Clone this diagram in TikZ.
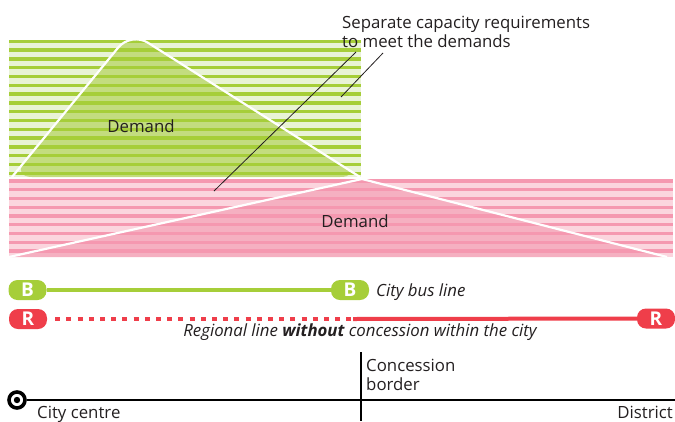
\documentclass[tikz,border=0pt]{standalone}
\usepackage{fontspec}
\setmainfont{Open Sans}
\usetikzlibrary{positioning}
\definecolor{busgreen}{RGB}{166, 206, 57}
\definecolor{greenlight}{RGB}{233, 243, 214}
\definecolor{greenmid}{RGB}{195, 220, 127}
\definecolor{regred}{RGB}{239, 62, 74}
\definecolor{pinkstripe}{RGB}{245, 152, 176}
\definecolor{pinklight}{RGB}{251, 213, 222}
\definecolor{pinkmid}{RGB}{245, 176, 193}
\definecolor{textgray}{RGB}{35, 31, 32}

\begin{document}
\begin{tikzpicture}[
    x=1pt, y=-1pt,
    label/.style={
      inner sep=0pt,
      anchor=base west,
      text=textgray,
      font=\fontsize{16.8}{19}\selectfont
    },
    badge/.style={
      rectangle,
      rounded corners=9pt,
      minimum width=38pt,
      minimum height=20pt,
      inner sep=0pt,
      text=white,
      font=\fontsize{19}{19}\selectfont\bfseries
    },
    outline/.style={white, line width=2.2pt, line join=round},
    pointer/.style={textgray, line width=0.8pt},
    busline/.style={busgreen, line width=4pt},
    axis/.style={black, line width=1.3pt}
  ]
    \useasboundingbox (0,0) rectangle (675,421);

    % capacity for the city bus
    \fill[greenlight] (9,40) rectangle (361,177);
    \begin{scope}
      \clip (9,40) rectangle (361,177);
      \fill[greenmid, rounded corners=20pt] (12,177) -- (131,32) -- (360,177) -- cycle;
      \foreach \k in {0,...,15}
        \fill[busgreen] (9,{39.6+8.8*\k}) rectangle (361,{43+8.8*\k});
      \draw[outline, rounded corners=20pt] (12,177) -- (131,32) -- (360,177);
    \end{scope}

    % capacity for the regional line
    \fill[pinklight] (9,179) rectangle (673,257);
    \begin{scope}
      \clip (9,179) rectangle (673,257);
      \fill[pinkmid] (9,257) -- (362,179) -- (667,257) -- cycle;
      \foreach \k in {0,...,8}
        \fill[pinkstripe] (9,{179.3+8.75*\k}) rectangle (673,{182.7+8.75*\k});
      \draw[outline] (9,257) -- (362,179) -- (667,257);
    \end{scope}

    \node[label, anchor=base] (dem1) at (141,132) {Demand};
    \node[label, anchor=base] (dem2) at (355,227) {Demand};

    \node[label, align=left, anchor=north west] (sep) at (342,15.5)
      {Separate capacity requirements\\to meet the demands};
    \coordinate (s1) at (356,52);
    \coordinate (s2) at (383,53);
    \coordinate (e1) at (214,191);
    \coordinate (e2) at (341,97);
    \draw[pointer] (s1) -- (e1);
    \draw[pointer] (s2) -- (e2);

    % lines
    \node[badge, fill=busgreen] (b1) at (27.5,290) {B};
    \node[badge, fill=busgreen] (b2) at (350,290) {B};
    \draw[busline] (b1) -- (b2);
    \node[label, font=\fontsize{16.8}{19}\selectfont\itshape] (bus) at (376,296) {City bus line};

    \node[badge, fill=regred] (r1) at (28,319) {R};
    \node[badge, fill=regred] (r2) at (656,318.5) {R};
    \coordinate (rb) at (353,319);
    \draw[regred, line width=4pt, dash pattern=on 5pt off 6.2pt, shorten <=8pt] (r1) -- (rb);
    \draw[regred, line width=4pt] (rb) -- (r2);
    \node[label, anchor=base, font=\fontsize{16.8}{19}\selectfont\itshape] (reg) at (360,336)
      {Regional line \textbf{without} concession within the city};

    % axis
    \node[circle, draw=black, line width=3.6pt, minimum size=16pt, inner sep=0pt] (centre) at (17,400) {};
    \fill (centre) circle (3.2pt);
    \coordinate (dist) at (675,400);
    \draw[axis] (centre) -- (dist);
    \coordinate (bt) at (361,352);
    \coordinate (bb) at (361,421);
    \draw[black, line width=1.5pt] (bt) -- (bb);
    \node[label, align=left, anchor=north west] (border) at (366,358.5) {Concession\\border};
    \node[label] (cc) at (37,418) {City centre};
    \node[label, anchor=base east] (district) at (673,418) {District};
  \end{tikzpicture}
\end{document}
